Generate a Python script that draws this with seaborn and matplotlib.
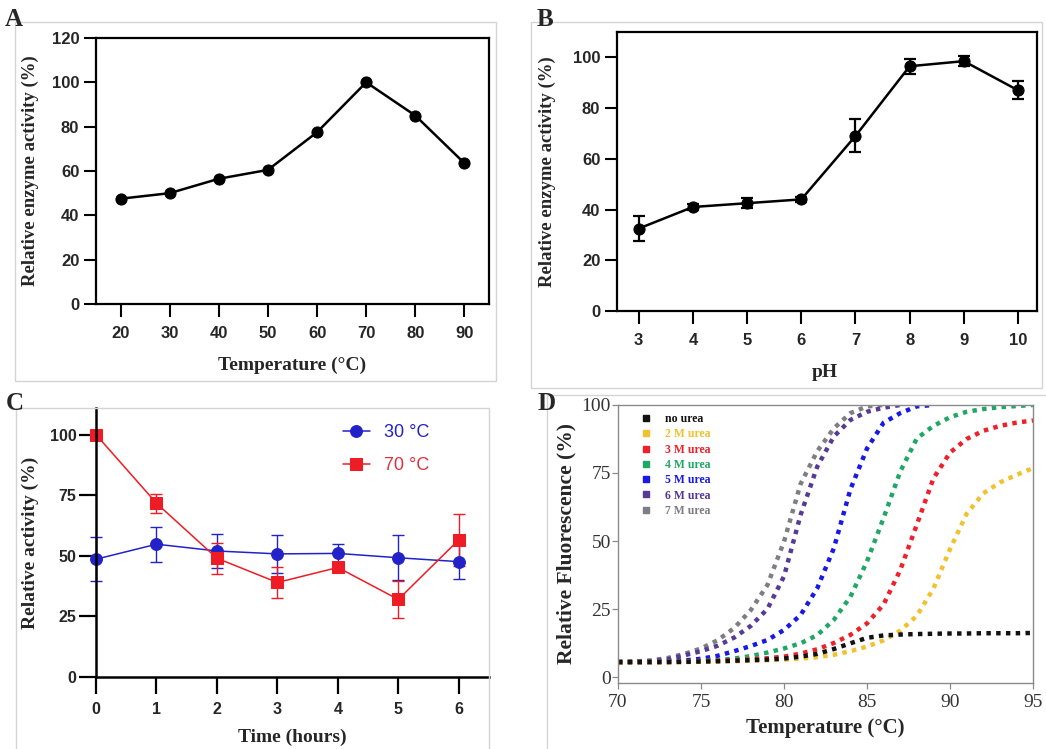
import numpy as np
import pandas as pd
import seaborn as sns
import matplotlib.pyplot as plt
from matplotlib.lines import Line2D
from matplotlib.patches import Rectangle

# ---- data ----
# A: temperature profile
temp_a = [20, 30, 40, 50, 60, 70, 80, 90]
act_a = [47.5, 50, 56.5, 60.5, 77.5, 100, 85, 63.5]

# B: pH profile
ph_b = [3, 4, 5, 6, 7, 8, 9, 10]
act_b = [32.5, 41, 42.5, 44, 69, 96.5, 98.5, 87]
err_b = [5, 1, 2, 1, 6.5, 3, 2, 3.5]

# C: thermal stability
hours_c = [0, 1, 2, 3, 4, 5, 6]
act_30 = [48.6, 54.8, 52, 50.8, 51, 49.2, 47.6]
err_30 = [9.1, 7.2, 7, 8, 4, 9.3, 7.3]
act_70 = [100, 71.7, 49, 39, 45.2, 32, 56.6]
err_70 = [0, 3.9, 6.5, 6.2, 2, 7.6, 10.7]

# D: thermal shift with urea (70..95 degC)
temp_d = list(range(70, 96))
nan = np.nan
no_urea = [5.5, 5.5, 5.5, 5.5, 5.6, 5.7, 5.8, 6.0, 6.2, 6.4, 6.8, 7.5, 8.5,
           10.3, 12.4, 14.4, 15.3, 15.6, 15.8, 15.9, 16.0, 16.0, 16.1, 16.1, 16.1, 16.2]
urea_2 = [5.5, 5.5, 5.5, 5.5, 5.5, 5.6, 5.7, 5.8, 6.0, 6.2, 6.4, 6.8, 7.3,
          8.2, 9.5, 11.2, 13.5, 17, 22.5, 32.5, 47, 60, 67.5, 71.5, 74.3, 76.8]
urea_3 = [5.5, 5.5, 5.5, 5.5, 5.6, 5.8, 6.0, 6.2, 6.5, 6.9, 7.5, 8.6, 10.2,
          12.5, 15.5, 19.7, 26.7, 39.3, 56, 73, 82.5, 87.5, 90.5, 92.3, 93.5, 94.3]
urea_4 = [5.5, 5.5, 5.5, 5.6, 5.7, 5.9, 6.2, 6.8, 7.7, 9, 10.5, 12.4, 15.4,
          21, 29.5, 42.5, 58.5, 75.5, 87.7, 92.3, 95.5, 97.5, 98.5, 99.2, 99.6, 100]
urea_5 = [5.5, 5.5, 5.6, 5.8, 6.1, 6.7, 7.8, 9.5, 11.4, 13.6, 17.3, 22.8, 32.6,
          47.3, 69, 84, 93.5, 97, 99.5, 100, nan, nan, nan, nan, nan, nan]
urea_6 = [5.5, 5.6, 5.9, 6.5, 8, 9.5, 11.5, 14.5, 18.8, 25, 37, 59.6, 77.3,
          88.4, 94.5, 97.5, 99, 100, nan, nan, nan, nan, nan, nan, nan, nan]
urea_7 = [5.5, 5.7, 6.1, 7, 8.5, 10.5, 13.5, 18, 24.6, 33.8, 49.8, 71, 83,
          91.4, 97, 99.5, 100, nan, nan, nan, nan, nan, nan, nan, nan, nan]
urea_labels = ["no urea", "2 M urea", "3 M urea", "4 M urea", "5 M urea", "6 M urea", "7 M urea"]
urea_series = [no_urea, urea_2, urea_3, urea_4, urea_5, urea_6, urea_7]
urea_colors = ["#111111", "#f2c12e", "#f0202a", "#1fa865", "#1818e8", "#553a96", "#7d7d85"]

SANS = "Liberation Sans"
SERIF = "Liberation Serif"

sns.set_style("ticks")
plt.rcParams["font.family"] = [SANS, "DejaVu Sans"]

fig = plt.figure(figsize=(10.46, 7.49), dpi=100)


def px_rect(x0, y0, x1, y1):
    W, H = 1046, 749
    return Rectangle((x0 / W, 1 - y1 / H), (x1 - x0) / W, (y1 - y0) / H,
                     transform=fig.transFigure, fill=False, ec="#d4d4d4", lw=1.0)


for r in [(15, 22, 496, 381), (531, 22, 1042, 388), (16, 408, 489, 760), (547, 395, 1060, 760)]:
    fig.add_artist(px_rect(*r))

axA = fig.add_axes([0.0918, 0.5941, 0.3757, 0.3552])
axB = fig.add_axes([0.5899, 0.5848, 0.4015, 0.3725])
axC = fig.add_axes([0.0918, 0.0961, 0.3757, 0.3592])
axD = fig.add_axes([0.5908, 0.0881, 0.3968, 0.3712])


def bold_ticks(ax, size):
    for lab in ax.get_xticklabels() + ax.get_yticklabels():
        lab.set_fontweight("bold")
        lab.set_fontsize(size)
        lab.set_family(SANS)


def boxed(ax):
    for s in ax.spines.values():
        s.set_visible(True)
        s.set_color("black")
        s.set_linewidth(1.6)
    ax.tick_params(axis="both", direction="out", length=9, width=1.5, color="black")
    ax.tick_params(axis="x", pad=7)
    ax.tick_params(axis="y", pad=3)


# ---- A ----
sns.lineplot(x=temp_a, y=act_a, ax=axA, color="black", lw=1.8, marker="o",
             markersize=8, markeredgecolor="black")
axA.set_xlim(15, 95)
axA.set_ylim(0, 120)
axA.set_xticks(temp_a)
axA.set_yticks(range(0, 121, 20))
boxed(axA)
bold_ticks(axA, 12)
axA.set_xlabel("Temperature (°C)", family=SERIF, fontweight="bold", fontsize=14)
axA.set_ylabel("Relative enzyme activity (%)", family=SERIF, fontweight="bold", fontsize=13.5)
axA.yaxis.set_label_coords(-0.168, 0.5)
axA.xaxis.set_label_coords(0.498, -0.229)
axA.yaxis.label.set_va("center")
axA.xaxis.label.set_va("center")

# ---- B ----
sns.lineplot(x=ph_b, y=act_b, ax=axB, color="black", lw=1.8, marker="o",
             markersize=8, markeredgecolor="black")
axB.errorbar(ph_b, act_b, yerr=err_b, fmt="none", ecolor="black", elinewidth=1.6,
             capsize=4, capthick=1.6)
axB.set_xlim(2.6, 10.35)
axB.set_ylim(0, 110)
axB.set_xticks(ph_b)
axB.set_yticks(range(0, 101, 20))
boxed(axB)
bold_ticks(axB, 12)
axB.set_xlabel("pH", family=SERIF, fontweight="bold", fontsize=14)
axB.set_ylabel("Relative enzyme activity (%)", family=SERIF, fontweight="bold", fontsize=13.5)
axB.yaxis.set_label_coords(-0.167, 0.5)
axB.xaxis.set_label_coords(0.495, -0.222)
axB.yaxis.label.set_va("center")
axB.xaxis.label.set_va("center")

# ---- C ----
blue_c = "#2222c8"
red_c = "#ee1c24"
axC.errorbar(hours_c, act_30, yerr=err_30, fmt="none", ecolor=blue_c, elinewidth=1.0,
             capsize=4.5, capthick=1.0, clip_on=False)
axC.errorbar(hours_c, act_70, yerr=err_70, fmt="none", ecolor=red_c, elinewidth=1.0,
             capsize=4.5, capthick=1.0, clip_on=False)
sns.lineplot(x=hours_c, y=act_30, ax=axC, color=blue_c, lw=1.1, marker="o",
             markersize=8.5, markeredgecolor=blue_c, label="30 °C", clip_on=False)
sns.lineplot(x=hours_c, y=act_70, ax=axC, color=red_c, lw=1.1, marker="s",
             markersize=8, markeredgecolor=red_c, label="70 °C", clip_on=False)
axC.set_xlim(0, 6.5)
axC.set_ylim(0, 111)
axC.set_xticks(hours_c)
axC.set_yticks([0, 25, 50, 75, 100])
sns.despine(ax=axC)
for s in ["left", "bottom"]:
    axC.spines[s].set_color("black")
    axC.spines[s].set_linewidth(1.8)
axC.tick_params(axis="both", direction="out", length=12, width=1.6, color="black")
axC.tick_params(axis="x", pad=6)
axC.tick_params(axis="y", pad=2)
bold_ticks(axC, 11.5)
axC.set_xlabel("Time (hours)", family=SERIF, fontweight="bold", fontsize=14)
axC.set_ylabel("Relative activity (%)", family=SERIF, fontweight="bold", fontsize=14)
axC.yaxis.set_label_coords(-0.168, 0.5)
axC.xaxis.set_label_coords(0.499, -0.223)
axC.yaxis.label.set_va("center")
axC.xaxis.label.set_va("center")
legC = axC.legend(loc="upper right", bbox_to_anchor=(0.89, 1.0), frameon=False,
                  fontsize=13, handlelength=1.5, handletextpad=0.8, labelspacing=0.9)
for txt, col in zip(legC.get_texts(), [blue_c, "#e03040"]):
    txt.set_color(col)

# ---- D ----
for vals, col in zip(urea_series[::-1], urea_colors[::-1]):
    sns.lineplot(x=temp_d, y=vals, ax=axD, color=col, lw=3.2,
                 linestyle=(0, (1, 1.2)), dash_capstyle="butt")
axD.set_xlim(70, 95)
axD.set_ylim(-2.2, 100)
axD.set_xticks(range(70, 96, 5))
axD.set_yticks([0, 25, 50, 75, 100])
for s in axD.spines.values():
    s.set_visible(True)
    s.set_color("#8a8a8a")
    s.set_linewidth(1.0)
axD.tick_params(axis="both", direction="out", length=4, width=0.9, color="#8a8a8a",
                labelsize=14, labelcolor="#333333")
axD.tick_params(axis="x", pad=4)
axD.tick_params(axis="y", pad=1)
for lab in axD.get_xticklabels() + axD.get_yticklabels():
    lab.set_family(SERIF)
axD.set_xlabel("Temperature (°C)", family=SERIF, fontweight="bold", fontsize=15)
axD.set_ylabel("Relative Fluorescence (%)", family=SERIF, fontweight="bold", fontsize=15.5)
axD.yaxis.set_label_coords(-0.123, 0.5)
axD.xaxis.set_label_coords(0.499, -0.162)
axD.yaxis.label.set_va("center")
axD.xaxis.label.set_va("center")
handles = [Line2D([], [], ls="none", marker="s", markersize=4.5, color=c) for c in urea_colors]
legD = axD.legend(handles, urea_labels, loc="upper left", bbox_to_anchor=(0.03, 1.005),
                  frameon=False, prop={"family": SERIF, "weight": "bold", "size": 8.5},
                  handlelength=1.0, handletextpad=1.1, labelspacing=0.28, borderpad=0.3)
for txt, col in zip(legD.get_texts(), urea_colors):
    txt.set_color(col)

# ---- panel letters ----
for letter, (xp, yp) in zip("ABCD", [(5, 8), (537, 8), (6, 392), (538, 392)]):
    fig.text(xp / 1046, 1 - yp / 749, letter, family=SERIF, fontweight="bold",
             fontsize=18, ha="left", va="top")

fig.savefig("out.png", dpi=100)
